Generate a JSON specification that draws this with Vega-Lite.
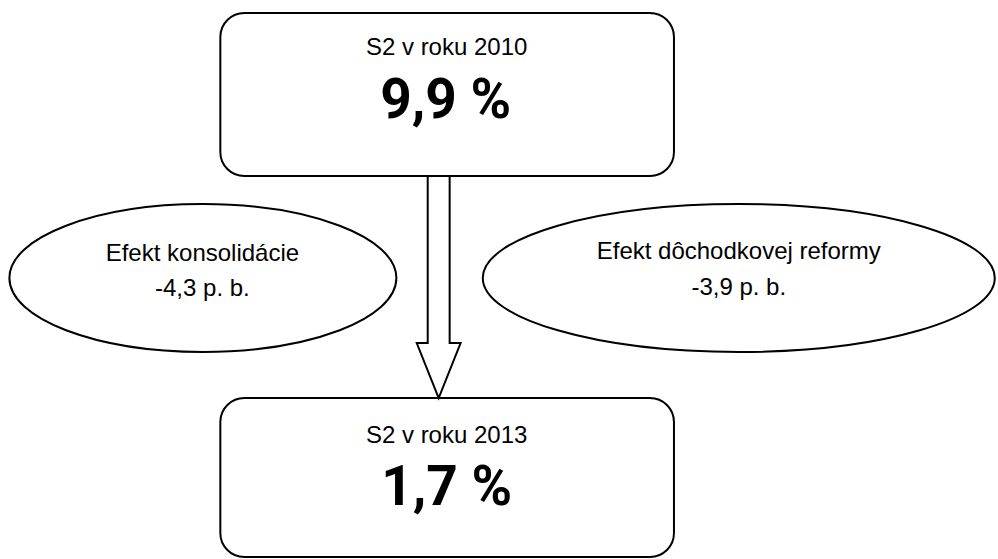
{
  "$schema": "https://vega.github.io/schema/vega-lite/v6.json",
  "width": 998,
  "height": 559,
  "autosize": {"type": "fit", "contains": "padding"},
  "padding": 0,
  "background": "white",
  "config": {"view": {"stroke": null}},
  "datasets": {
    "boxes": [
      {"name": "S2 v roku 2010", "x1": 221, "x2": 676, "y1": 13, "y2": 176},
      {"name": "S2 v roku 2013", "x1": 221, "x2": 676, "y1": 398, "y2": 557}
    ],
    "ellipses": [
      {"name": "Efekt konsolidácie", "cx": 203.5, "cy": 278, "w": 387},
      {"name": "Efekt dôchodkovej reformy", "cx": 741, "cy": 278, "w": 512}
    ],
    "arrow": [
      {"i": 1, "x": 429, "y": 176},
      {"i": 2, "x": 429, "y": 343},
      {"i": 3, "x": 418, "y": 343},
      {"i": 4, "x": 440, "y": 398},
      {"i": 5, "x": 462, "y": 343},
      {"i": 6, "x": 451, "y": 343},
      {"i": 7, "x": 451, "y": 176}
    ],
    "labels": [
      {"role": "title", "text": "S2 v roku 2010", "x": 448, "y": 55},
      {"role": "value", "text": "9,9 %", "x": 447, "y": 118},
      {"role": "title", "text": "S2 v roku 2013", "x": 448, "y": 443},
      {"role": "value", "text": "1,7 %", "x": 448, "y": 505},
      {"role": "effect", "text": "Efekt konsolidácie", "x": 203, "y": 261},
      {"role": "effect", "text": "-4,3 p. b.", "x": 203, "y": 296},
      {"role": "effect", "text": "Efekt dôchodkovej reformy", "x": 741, "y": 259},
      {"role": "effect", "text": "-3,9 p. b.", "x": 741, "y": 295}
    ]
  },
  "encoding": {
    "x": {"type": "quantitative", "scale": {"domain": [0, 998], "nice": false, "zero": false}, "axis": null},
    "y": {"type": "quantitative", "scale": {"domain": [0, 559], "nice": false, "zero": false, "reverse": true}, "axis": null}
  },
  "layer": [
    {
      "data": {"name": "boxes"},
      "mark": {"type": "rect", "cornerRadius": 24, "fill": "white", "stroke": "black", "strokeWidth": 2},
      "encoding": {
        "x": {"field": "x1", "type": "quantitative"},
        "x2": {"field": "x2"},
        "y": {"field": "y1", "type": "quantitative"},
        "y2": {"field": "y2"}
      }
    },
    {
      "data": {"name": "ellipses"},
      "mark": {"type": "point", "filled": true, "fill": "white", "stroke": "black", "strokeWidth": 2, "opacity": 1},
      "encoding": {
        "x": {"field": "cx", "type": "quantitative"},
        "y": {"field": "cy", "type": "quantitative"},
        "size": {"field": "w", "type": "quantitative", "scale": {"type": "pow", "exponent": 2, "domain": [0, 998], "range": [0, 996004], "zero": true, "nice": false}, "legend": null},
        "shape": {"field": "name", "type": "nominal", "scale": {"domain": ["Efekt konsolidácie", "Efekt dôchodkovej reformy"], "range": ["M-1,0A1,0.382,0,1,0,1,0A1,0.382,0,1,0,-1,0Z", "M-1,0A1,0.289,0,1,0,1,0A1,0.289,0,1,0,-1,0Z"]}, "legend": null}
      }
    },
    {
      "data": {"name": "arrow"},
      "mark": {"type": "line", "stroke": "black", "strokeWidth": 2, "strokeJoin": "miter"},
      "encoding": {
        "x": {"field": "x", "type": "quantitative"},
        "y": {"field": "y", "type": "quantitative"},
        "order": {"field": "i", "type": "quantitative"}
      }
    },
    {
      "data": {"name": "labels"},
      "transform": [{"filter": "datum.role !== 'value'"}],
      "mark": {"type": "text", "font": "Liberation Sans", "fontSize": 24, "align": "center", "baseline": "alphabetic", "color": "black"},
      "encoding": {
        "x": {"field": "x", "type": "quantitative"},
        "y": {"field": "y", "type": "quantitative"},
        "text": {"field": "text", "type": "nominal"}
      }
    },
    {
      "data": {"name": "labels"},
      "transform": [{"filter": "datum.role === 'value'"}],
      "mark": {"type": "text", "font": "Roboto", "fontWeight": "bold", "fontSize": 55, "align": "center", "baseline": "alphabetic", "color": "black"},
      "encoding": {
        "x": {"field": "x", "type": "quantitative"},
        "y": {"field": "y", "type": "quantitative"},
        "text": {"field": "text", "type": "nominal"}
      }
    }
  ]
}
